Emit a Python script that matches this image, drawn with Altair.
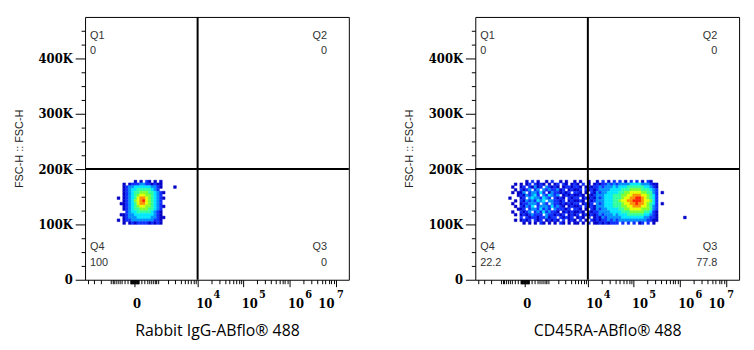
import math
import altair as alt
import pandas as pd

# ---------------- data ----------------
SYMLOG_C = 455                  # biexponential-like x scale (symlog constant)
X_DOMAIN = [-4823, 19000000]
Y_DOMAIN = [0, 475000]
GATE_X = 10000                  # quadrant gate positions
GATE_Y = 200000

MAJOR_X = [0, 10000, 100000, 1000000, 10000000]
SUPERSCRIPTS = ["4", "5", "6", "7"]

quad_names = ["Q1", "Q2", "Q3", "Q4"]
left_pcts = ["0", "0", "0", "100"]
right_pcts = ["0", "0", "77.8", "22.2"]
x_titles = ["Rabbit IgG-ABflo\u00ae 488", "CD45RA-ABflo\u00ae 488"]
y_title = "FSC-H :: FSC-H"

# density grids: rows from 180K (top) down to 100K, 5K per row;
# columns are steps of 0.14 in symlog units; digit = density level
CELL_DU = 0.14
CELL_DY = 5000
CELL_TOP = 180000
left_u0 = -1.0
right_u0 = -0.8

left_grid = [
    "....." + "..1.1.21.1.1.." + "...",
    "..." + "1.122233221211" + ".....",
    "..." + "12334444443321" + "....1",
    "..." + "1234455555432." + ".....",
    "..." + "12345566655432" + "1....",
    "..." + "12345677665432" + ".....",
    ".1." + "12345788765432" + "1....",
    "..." + "12346789765432" + ".....",
    "..1" + "12345788765432" + ".....",
    "..." + "12345677665432" + "1....",
    "..." + "12345566655432" + ".....",
    "..." + ".2344555554321" + ".....",
    "..1" + "12334444444321" + ".....",
    "..." + "12333444443321" + "1....",
    ".1." + "12233333333221" + ".....",
    "..." + "1.121222212121" + ".....",
]

right_A = ["....", "..1.", ".1..", "..1.", ".1.1", "...1", "1...", "..1.",
           ".1..", "..1.", "...1", ".1..", "..1.", "....", "..1.", "...."]
right_B = [
    "..1.2.1..1.2..1.1..1",
    "1.12.2121.1.12.21.12",
    "12.21312.32121.12212",
    "2123.23.32322312.121",
    "13.233242.13221212.2",
    "2132342.324323.12121",
    "12.34332432.2121.212",
    "213232434.332212.121",
    "1223332.32.322121212",
    "21324.2333242321.121",
    "12.23324232.322212.2",
    "2123.232423221.12121",
    "12123222.3221212.121",
    "2.21221223122.21212.",
    "1212.212.12121.2.121",
    ".1.1.1.21.1.1.21.1.1",
]
right_C = [".1..1..", "1.2.1.1", "21.1212", "12.2121", "21.1.21", "121.212",
           "2.12121", "121.212", "2.1212.", "12.2121", "21.1.21", "121.212",
           "2.12121", "121.2.1", ".2.1.21", "1.1.2.1"]
right_D = ["1.2.1.2", "2122323", "2323334", "2333344", "3233444", "3334445",
           "3234445", "3334445", "3234445", "3334445", "3233444", "2333344",
           "2323334", "2132333", "2122323", "1212122"]
right_E = [
    ".2.1.2.2.1.21..",
    "233334444333211",
    "344455555544321",
    "445556666555432",
    "455667777665532",
    "556677888776542",
    "556778899876542",
    "567788999877642",
    "556778898876542",
    "556677888776532",
    "455667777666532",
    "445556666655421",
    "344455555544321",
    "334444444433221",
    "233333333332211",
    "2.2.2.2.12.2.1.",
]
right_F = ["..........", "..........", "..........", "..........", ".1........",
           "..........", "..........", "..........", ".1........", "..........",
           "..........", "..........", "..........", ".........1", "..........",
           ".........."]
right_grid = [a + b + c + d + e + f for a, b, c, d, e, f in
              zip(right_A, right_B, right_C, right_D, right_E, right_F)]

LEVELS = [1, 2, 3, 4, 5, 6, 7, 8, 9]
JET = ["#0000c8", "#1030ff", "#0090ff", "#00e8ff", "#30ffa0",
       "#80ff30", "#e8ff00", "#ff9000", "#ff2000"]

# ---------------- helpers ----------------
W, H = 267, 266
LABEL_FONT = "DejaVu Serif Condensed, DejaVu Serif"


def inv_symlog(u):
    return math.copysign(SYMLOG_C * (math.exp(abs(u)) - 1), u)


def make_cells(grid, u0):
    recs = []
    for r, row in enumerate(grid):
        for c, ch in enumerate(row):
            if ch != ".":
                ua = u0 + c * CELL_DU
                recs.append(dict(x=inv_symlog(ua), x2=inv_symlog(ua + CELL_DU),
                                 y=CELL_TOP - (r + 1) * CELL_DY,
                                 y2=CELL_TOP - r * CELL_DY, level=int(ch)))
    return pd.DataFrame(recs)


xticks = sorted(set(
    [-m * d for d in (10, 100, 1000) for m in range(1, 10) if -m * d >= X_DOMAIN[0]]
    + [0]
    + [m * d for d in (10, 100, 1000, 10000, 100000, 1000000) for m in range(1, 10)]
    + [10000000]))
yticks = list(range(0, 450001, 25000))

major_test = " || ".join(f"datum.value == {v}" for v in MAJOR_X)
xscale = alt.Scale(type="symlog", constant=SYMLOG_C, domain=X_DOMAIN, nice=False, zero=False)
yscale = alt.Scale(domain=Y_DOMAIN, nice=False, zero=False)


def panel(grid, u0, pcts, xtitle):
    cells = make_cells(grid, u0)
    xaxis = alt.Axis(
        values=xticks,
        labelExpr="datum.value == 0 ? '0' : ((" + major_test + ") ? '10' : '')",
        labelAlign={"condition": {"test": "datum.value >= 10000000", "value": "right"},
                    "value": "left"},
        labelOffset=-2, labelBaseline="top", labelPadding=11,
        tickSize={"condition": {"test": major_test, "value": 7}, "value": 4},
        tickColor="black", tickWidth=1,
        labelFont=LABEL_FONT, labelFontSize=13, labelFontWeight="bold", labelColor="black",
        labelOverlap=False, labelFlush=False, domain=False, grid=False,
        title=xtitle, titleFont="Open Sans", titleFontSize=16, titleFontWeight="normal",
        titleColor="black", titlePadding=12)
    yaxis = alt.Axis(
        values=yticks,
        labelExpr="datum.value % 100000 == 0 ? (datum.value == 0 ? '0' : (datum.value / 1000) + 'K') : ''",
        tickSize={"condition": {"test": "datum.value % 100000 == 0", "value": 10}, "value": 4},
        tickColor="black", tickWidth=1, labelPadding=3,
        labelFont=LABEL_FONT, labelFontSize=13, labelFontWeight="bold", labelColor="black",
        labelOverlap=False, labelFlush=False, domain=False, grid=False,
        title=y_title, titleFont="Liberation Sans", titleFontSize=11, titleFontWeight="normal",
        titleColor="#222222", titlePadding=14)

    X = lambda f: alt.X(f, scale=xscale, axis=xaxis, title=xtitle)
    Y = lambda f: alt.Y(f, scale=yscale, axis=yaxis, title=y_title)

    color_scale = alt.Scale(domain=LEVELS, range=JET)
    dens = alt.Chart(cells).mark_rect(strokeWidth=0.4).encode(
        x=X("x:Q"),
        x2="x2:Q",
        y=Y("y:Q"),
        y2="y2:Q",
        fill=alt.Fill("level:O", scale=color_scale, legend=None),
        stroke=alt.Stroke("level:O", scale=color_scale, legend=None),
    )
    vline = alt.Chart(pd.DataFrame({"x": [GATE_X]})).mark_rule(
        color="black", strokeWidth=2).encode(x=X("x:Q"))
    hline = alt.Chart(pd.DataFrame({"y": [GATE_Y]})).mark_rule(
        color="black", strokeWidth=2).encode(y=Y("y:Q"))

    qdf = pd.DataFrame({
        "name": quad_names, "pct": pcts,
        "x": [X_DOMAIN[0], X_DOMAIN[1], X_DOMAIN[1], X_DOMAIN[0]],
        "yn": [440000, 440000, 59000, 59000],
        "yp": [414000, 414000, 30000, 30000],
        "side": ["l", "r", "r", "l"],
    })
    qtexts = []
    for side, align, dx in (("l", "left", 5), ("r", "right", -22)):
        sub = qdf[qdf.side == side]
        for yf, tf in (("yn", "name"), ("yp", "pct")):
            qtexts.append(alt.Chart(sub).mark_text(
                align=align, baseline="middle", dx=dx, font="Liberation Sans",
                fontSize=11, color="#333333").encode(
                x=X("x:Q"), y=Y(f"{yf}:Q"), text=f"{tf}:N"))

    sup = pd.DataFrame({"v": MAJOR_X[1:], "s": SUPERSCRIPTS})
    sup_a = alt.Chart(sup[sup.v < 10000000]).mark_text(
        align="left", baseline="alphabetic", dx=16, font=LABEL_FONT, fontSize=11,
        fontWeight="bold", color="black").encode(
        x=X("v:Q"), y=alt.value(H + 18.5), text="s:N")
    sup_b = alt.Chart(sup[sup.v >= 10000000]).mark_text(
        align="left", baseline="alphabetic", dx=1, font=LABEL_FONT, fontSize=11,
        fontWeight="bold", color="black").encode(
        x=X("v:Q"), y=alt.value(H + 18.5), text="s:N")

    return alt.layer(dens, vline, hline, *qtexts, sup_a, sup_b).properties(width=W, height=H)


chart = alt.hconcat(
    panel(left_grid, left_u0, left_pcts, x_titles[0]),
    panel(right_grid, right_u0, right_pcts, x_titles[1]),
    spacing=52,
).configure(
    background="white",
    padding={"left": 4, "top": 5, "right": 5, "bottom": 5},
).configure_view(stroke="black", strokeWidth=1)

chart.save("out.html", embed_options={"renderer": "svg", "actions": False})
